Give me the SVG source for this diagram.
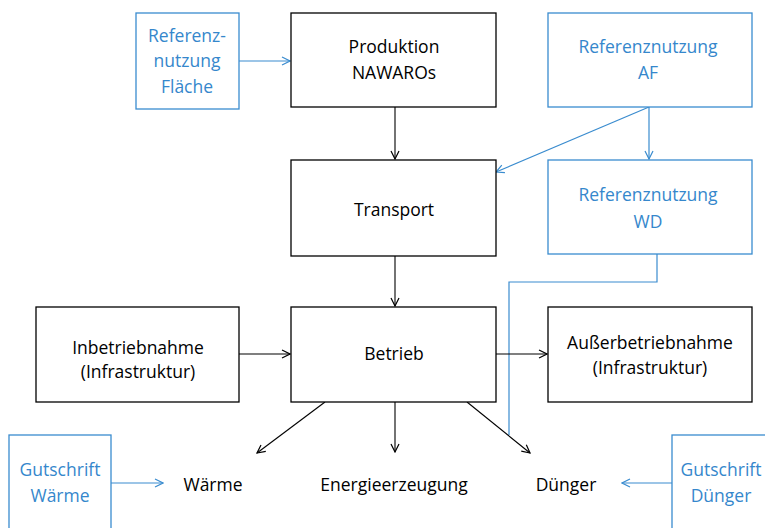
<svg xmlns="http://www.w3.org/2000/svg" width="765" height="528" viewBox="0 0 765 528">
<defs>
<style>
.b{fill:#fff;stroke:#000;stroke-width:1.3}
.bb{fill:#fff;stroke:#3a8ccf;stroke-width:1.3}
text{font-family:"Open Sans","Liberation Sans",sans-serif;font-size:17.5px;text-anchor:middle}
.t{fill:#000}
.tb{fill:#3587cc}
.c{fill:none;stroke:#000;stroke-width:1.1}
.cb{fill:none;stroke:#3a8ccf;stroke-width:1.2}
</style>
<marker id="ak" viewBox="0 0 10 10" refX="9" refY="5" markerWidth="10" markerHeight="10" markerUnits="userSpaceOnUse" orient="auto"><path d="M1,1 L9,5 L1,9" fill="none" stroke="#000" stroke-width="1.2"/></marker>
<marker id="ab" viewBox="0 0 10 10" refX="9" refY="5" markerWidth="10" markerHeight="10" markerUnits="userSpaceOnUse" orient="auto"><path d="M1,1 L9,5 L1,9" fill="none" stroke="#3a8ccf" stroke-width="1.2"/></marker>
</defs>
<rect width="765" height="528" fill="#fff"/>
<g id="connectors">
<path class="cb" d="M239,61 H290" marker-end="url(#ab)"/>
<path class="c" d="M395,107 V159" marker-end="url(#ak)"/>
<path class="c" d="M395,256 V306" marker-end="url(#ak)"/>
<path class="cb" d="M649,107 V159" marker-end="url(#ab)"/>
<path class="cb" d="M649,107 L496,172" marker-end="url(#ab)"/>
<path class="cb" d="M657,254 V282 H509 V435"/>
<path class="c" d="M239,354 H290" marker-end="url(#ak)"/>
<path class="c" d="M496,354 H547" marker-end="url(#ak)"/>
<path class="c" d="M325,402 L257,453" marker-end="url(#ak)"/>
<path class="c" d="M395,402 V452" marker-end="url(#ak)"/>
<path class="c" d="M467,402 L530,453" marker-end="url(#ak)"/>
<path class="cb" d="M111,483 H163" marker-end="url(#ab)"/>
<path class="cb" d="M672,483 H622" marker-end="url(#ab)"/>
</g>
<g id="ref-flaeche"><rect class="bb" x="136" y="13" width="103" height="96"/><text class="tb" x="187" y="42">Referenz-</text><text class="tb" x="187" y="67">nutzung</text><text class="tb" x="187" y="93">Fläche</text></g>
<g id="produktion"><rect class="b" x="291" y="13" width="205" height="94"/><text class="t" x="394" y="53">Produktion</text><text class="t" x="394" y="79">NAWAROs</text></g>
<g id="ref-af"><rect class="bb" x="548" y="13" width="204" height="94"/><text class="tb" x="648" y="53">Referenznutzung</text><text class="tb" x="648" y="79">AF</text></g>
<g id="transport"><rect class="b" x="291" y="160" width="205" height="96"/><text class="t" x="394" y="216">Transport</text></g>
<g id="ref-wd"><rect class="bb" x="548" y="160" width="204" height="94"/><text class="tb" x="648" y="201">Referenznutzung</text><text class="tb" x="648" y="228">WD</text></g>
<g id="inbetriebnahme"><rect class="b" x="36" y="307" width="203" height="95"/><text class="t" x="138" y="354">Inbetriebnahme</text><text class="t" x="138" y="378">(Infrastruktur)</text></g>
<g id="betrieb"><rect class="b" x="291" y="307" width="205" height="95"/><text class="t" x="394" y="360">Betrieb</text></g>
<g id="ausserbetriebnahme"><rect class="b" x="548" y="307" width="204" height="95"/><text class="t" x="650" y="349">Außerbetriebnahme</text><text class="t" x="650" y="374">(Infrastruktur)</text></g>
<g id="gutschrift-waerme"><rect class="bb" x="9" y="435" width="102" height="100"/><text class="tb" x="60" y="476">Gutschrift</text><text class="tb" x="60" y="502">Wärme</text></g>
<g id="waerme"><text class="t" x="213" y="491">Wärme</text></g>
<g id="energie"><text class="t" x="394" y="491">Energieerzeugung</text></g>
<g id="duenger"><text class="t" x="566" y="491">Dünger</text></g>
<g id="gutschrift-duenger"><rect class="bb" x="672" y="435" width="100" height="100"/><text class="tb" x="721" y="476">Gutschrift</text><text class="tb" x="721" y="502">Dünger</text></g>
</svg>
